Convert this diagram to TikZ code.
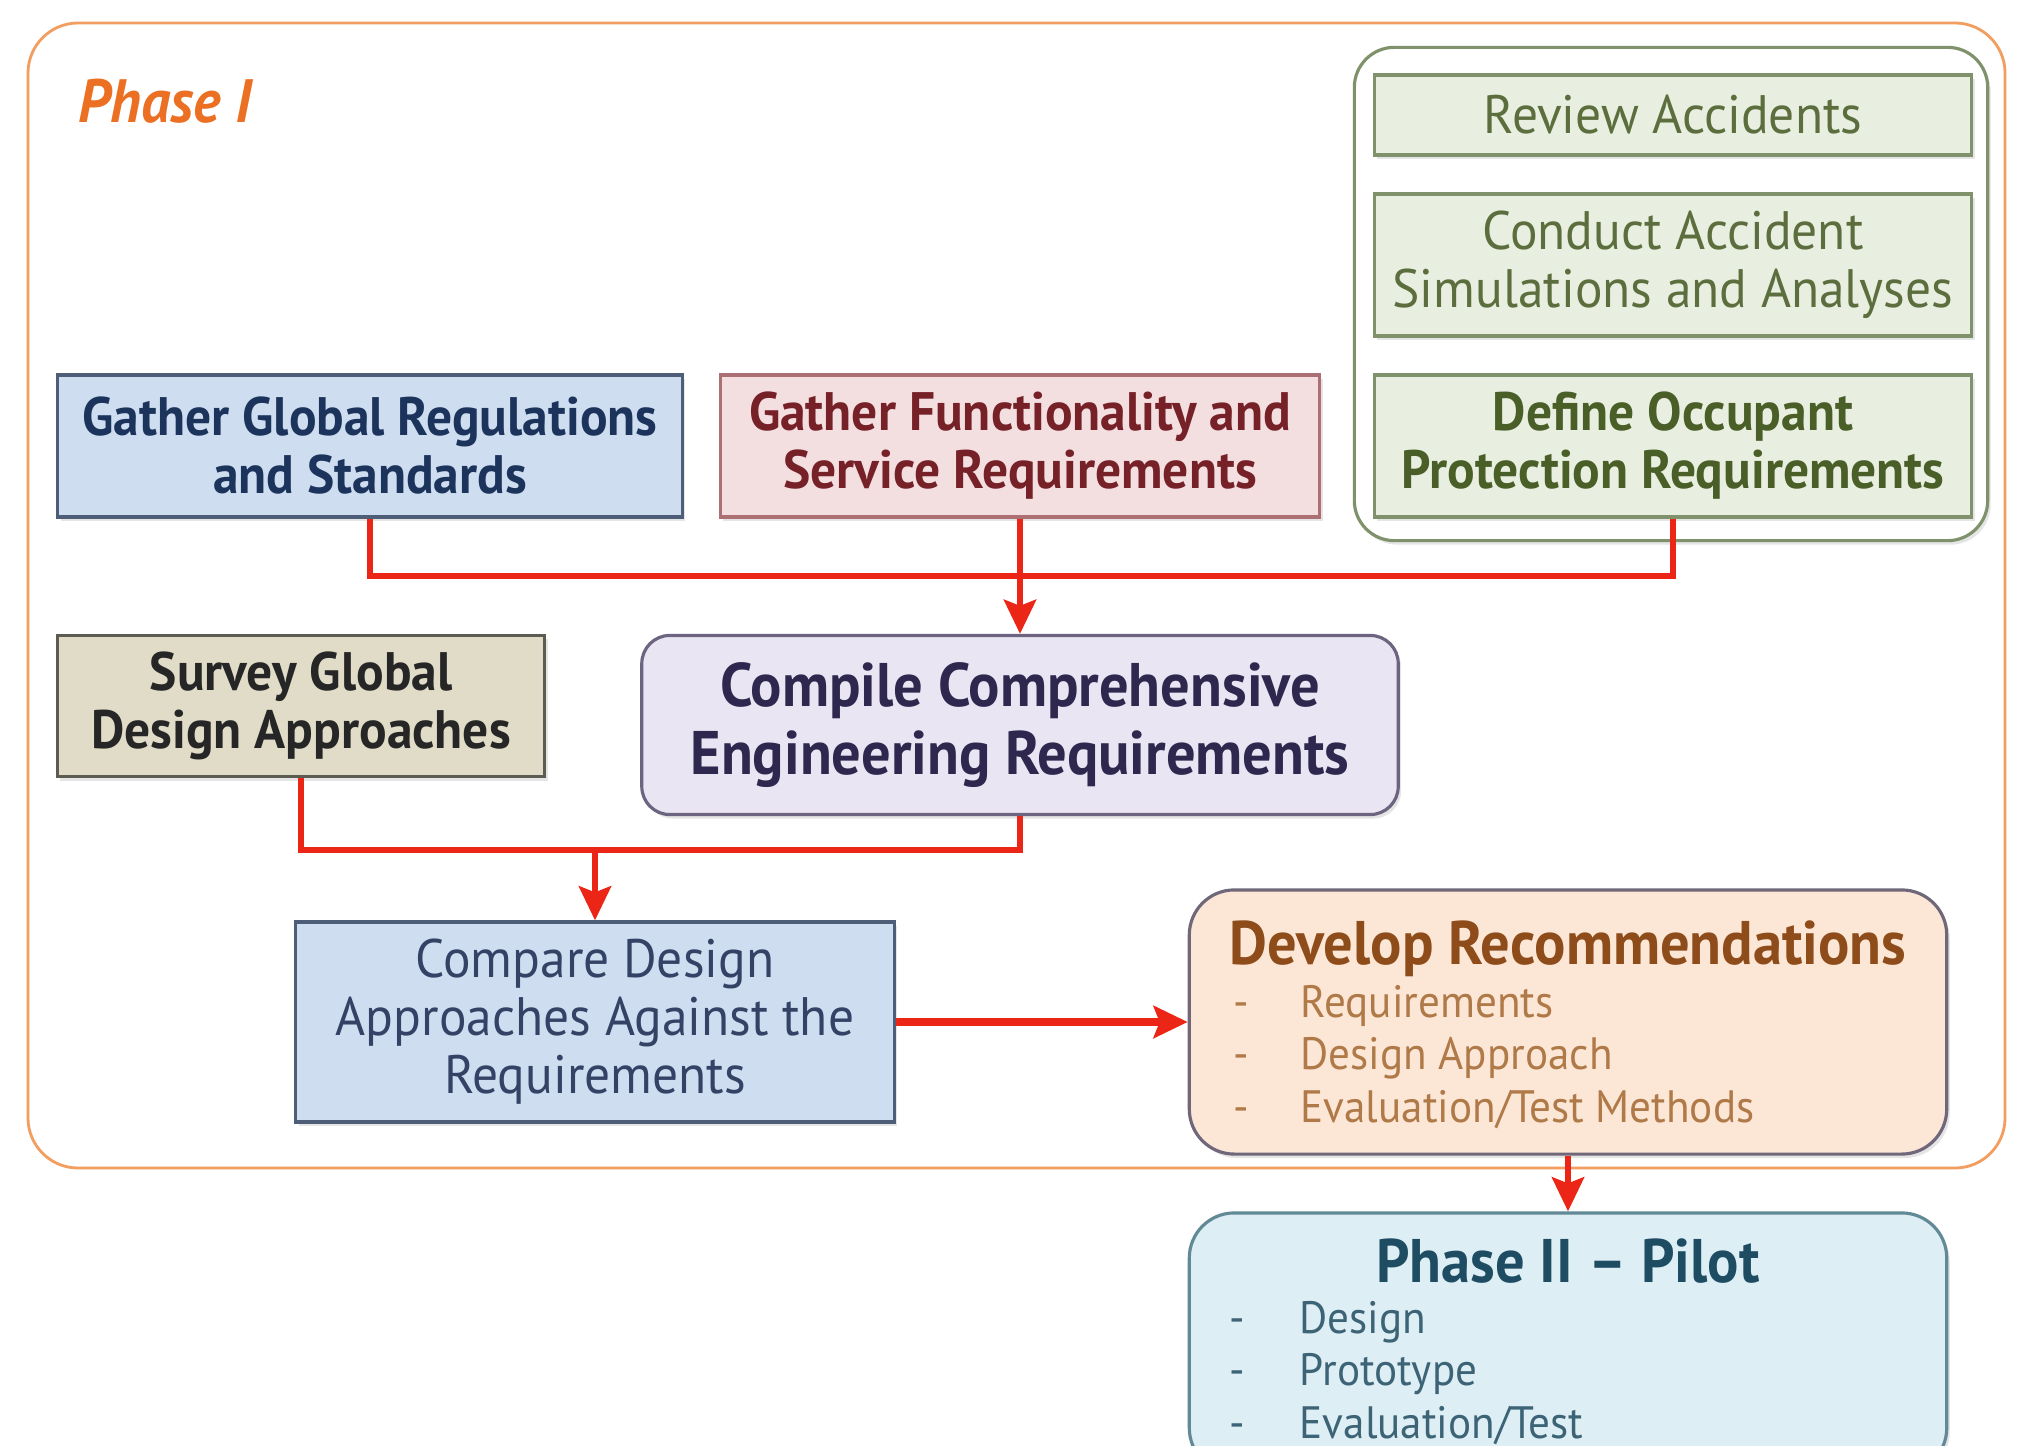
\documentclass[tikz,border=0pt]{standalone}
\usepackage{fontspec}
\setmainfont{PT Sans}[FakeStretch=0.95]
\usepackage{tikz}
\usetikzlibrary{positioning, arrows.meta, shadows}

\definecolor{frameorange}{RGB}{242,158,96}
\definecolor{phaseorange}{RGB}{236,112,36}
\definecolor{arrowred}{RGB}{236,38,22}
\definecolor{regfill}{RGB}{206,222,240}
\definecolor{regdraw}{RGB}{78,94,120}
\definecolor{regtext}{RGB}{28,52,92}
\definecolor{cmptext}{RGB}{52,66,102}
\definecolor{funcfill}{RGB}{243,222,224}
\definecolor{funcdraw}{RGB}{172,112,116}
\definecolor{functext}{RGB}{118,32,40}
\definecolor{occfill}{RGB}{233,239,224}
\definecolor{occdraw}{RGB}{128,146,108}
\definecolor{occtext}{RGB}{92,110,62}
\definecolor{occbold}{RGB}{74,94,40}
\definecolor{surveyfill}{RGB}{224,220,200}
\definecolor{surveydraw}{RGB}{92,92,82}
\definecolor{compfill}{RGB}{233,229,243}
\definecolor{compdraw}{RGB}{108,100,128}
\definecolor{comptext}{RGB}{46,40,78}
\definecolor{recfill}{RGB}{252,231,215}
\definecolor{recdraw}{RGB}{112,104,122}
\definecolor{rectitle}{RGB}{142,76,26}
\definecolor{recitem}{RGB}{176,122,72}
\definecolor{pilotfill}{RGB}{222,238,245}
\definecolor{pilotdraw}{RGB}{98,138,150}
\definecolor{pilottitle}{RGB}{30,76,98}
\definecolor{pilotitem}{RGB}{60,100,118}

\begin{document}
\begin{tikzpicture}[x=0.01cm, y=-0.01cm,
    block/.style={rectangle, draw, line width=0.9pt, align=center, inner sep=0pt,
    drop shadow={shadow xshift=0.03cm, shadow yshift=-0.04cm, opacity=0.2}},
    rblock/.style={block, rounded corners=0.28cm},
    bold/.style={font=\fontsize{15.4}{16.5}\selectfont\bfseries},
    light/.style={font=\fontsize{15.4}{16.5}\selectfont},
    big/.style={font=\fontsize{17.5}{19.4}\selectfont\bfseries},
    item/.style={anchor=west, inner sep=0pt, font=\fontsize{12.9}{15}\selectfont},
    link/.style={line width=1.8pt, arrowred},
    arrow/.style={link, -{Stealth[length=0.34cm, width=0.32cm, inset=0.06cm]}},
]

\fill[white] (0,0) rectangle (2028,1446);
\clip (0,0) rectangle (2028,1446);

\draw[frameorange, line width=0.8pt, rounded corners=0.5cm] (28,23) rectangle (2005,1168);
\node[anchor=west, inner sep=0pt, phaseorange, font=\fontsize{17.4}{20}\selectfont\bfseries\itshape]
    (phase1) at (78,101) {Phase I};

\node[rblock, draw=occdraw, fill=white, rounded corners=0.4cm,
    minimum width=6.33cm, minimum height=4.93cm] (occgroup) at (1671,294) {};

\node[block, light, fill=occfill, draw=occdraw, text=occtext,
    minimum width=5.97cm, minimum height=0.8cm] (review) at (1673,115) {Review Accidents};
\node[block, light, fill=occfill, draw=occdraw, text=occtext,
    minimum width=5.97cm, minimum height=1.42cm] (conduct) at (1673,265)
    {Conduct Accident\\Simulations and Analyses};
\node[block, bold, fill=occfill, draw=occdraw, text=occbold,
    minimum width=5.97cm, minimum height=1.42cm] (define) at (1673,446)
    {Define Occupant\\Protection Requirements};

\node[block, bold, fill=regfill, draw=regdraw, text=regtext,
    minimum width=6.24cm, minimum height=1.42cm] (gregs) at (370,446)
    {Gather Global Regulations\\and Standards};
\node[block, bold, fill=funcfill, draw=funcdraw, text=functext,
    minimum width=5.99cm, minimum height=1.42cm] (gfunc) at (1020,446)
    {Gather Functionality and\\Service Requirements};

\node[block, bold, fill=surveyfill, draw=surveydraw, text=black!85,
    minimum width=4.87cm, minimum height=1.41cm] (survey) at (301,706)
    {Survey Global\\Design Approaches};
\node[rblock, big, fill=compfill, draw=compdraw, text=comptext,
    minimum width=7.56cm, minimum height=1.79cm] (compile) at (1020,725)
    {Compile Comprehensive\\Engineering Requirements};

\node[block, light, fill=regfill, draw=regdraw, text=cmptext,
    minimum width=5.98cm, minimum height=2.0cm] (compare) at (595,1022)
    {Compare Design\\Approaches Against the\\Requirements};

\node[rblock, fill=recfill, draw=recdraw, rounded corners=0.45cm,
    minimum width=7.57cm, minimum height=2.64cm] (develop) at (1568,1022) {};
\node[big, rectitle, inner sep=0pt] (devtitle) at (1568,949) {Develop Recommendations};
\foreach \txt [count=\i] in {Requirements, Design Approach, Evaluation/Test Methods}
    \node[item, recitem] (dev\i) at (1233,954+52*\i) {\makebox[0.67cm][l]{-}\txt};

\node[rblock, fill=pilotfill, draw=pilotdraw, rounded corners=0.45cm,
    minimum width=7.57cm, minimum height=2.6cm] (pilot) at (1568,1343) {};
\node[big, pilottitle, inner sep=0pt] (pilottitle) at (1568,1261) {Phase II -- Pilot};
\foreach \txt [count=\i] in {Design, Prototype, Evaluation/Test}
    \node[item, pilotitem] (pilot\i) at (1229,1270+52*\i) {\makebox[0.7cm][l]{-}\txt};

\coordinate (join1) at (1020,576);
\coordinate (join2) at (595,850);

\draw[link] (gregs.south) |- (join1) -| (define.south);
\draw[arrow] (gfunc.south) -- (compile.north);
\draw[link] (survey.south) |- (join2) -| (compile.south);
\draw[arrow] (join2) -- (compare.north);
\draw[arrow, line width=2.4pt] (compare.east) -- (develop.west);
\draw[arrow] (develop.south) -- (pilot.north);

\end{tikzpicture}
\end{document}
